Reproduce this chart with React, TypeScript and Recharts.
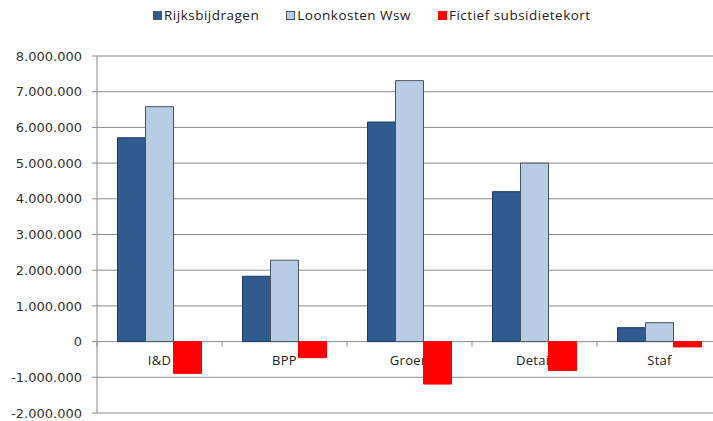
import { BarChart, Bar, XAxis, YAxis, CartesianGrid, Legend, LabelList } from "recharts";

const categories = ["I&D", "BPP", "Groen", "Detail", "Staf"];
const rijksbijdragen = [5710000, 1830000, 6150000, 4200000, 390000];
const loonkosten = [6580000, 2280000, 7310000, 5000000, 530000];
const fictief = [-890000, -450000, -1190000, -810000, -150000];
const yTicks = [-2000000, -1000000, 0, 1000000, 2000000, 3000000, 4000000, 5000000, 6000000, 7000000, 8000000];

const SERIES = [
  { key: "rijks", name: "Rijksbijdragen", fill: "#2F5B8F", stroke: "#1D3A5E" },
  { key: "loon", name: "Loonkosten Wsw", fill: "#B8CCE4", stroke: "#46525F" },
  { key: "fictief", name: "Fictief subsidietekort", fill: "#FF0000", stroke: "#FF0000" },
];

const data = categories.map((name, i) => ({
  name,
  rijks: rijksbijdragen[i],
  loon: loonkosten[i],
  fictief: fictief[i],
}));

const GAP = 0.164;
const FONT = "'Open Sans', sans-serif";
const GRID = "#8A8A8A";

const fmt = (v: number) => {
  const s = Math.abs(v).toString().replace(/\B(?=(\d{3})+(?!\d))/g, ".");
  return v < 0 ? "-" + s : s;
};

// category name + tick between categories, drawn from the first bar of each group
function CategoryLabel(props: any) {
  const vb = props.viewBox ?? props;
  const { x, y, width, height } = vb;
  const zeroY = height >= 0 ? y + height : y;
  const cx = x + width * 1.5;
  const gap = (width * 3 * GAP) / (1 - 2 * GAP);
  const bx = x - gap;
  return (
    <g>
      <line x1={bx} y1={zeroY} x2={bx} y2={zeroY + 5} stroke={GRID} />
      <text
        x={cx}
        y={zeroY + 18}
        textAnchor="middle"
        dominantBaseline="central"
        fontFamily={FONT}
        fontSize={13}
        letterSpacing={0.3}
        fill="#222"
      >
        {props.value}
      </text>
    </g>
  );
}

function LegendBox() {
  return (
    <div
      style={{
        display: "flex",
        alignItems: "flex-start",
        paddingLeft: 153,
        height: 50,
        fontFamily: FONT,
        fontSize: 13.5,
        letterSpacing: 0.5,
        color: "#222",
        lineHeight: "18px",
      }}
    >
      {SERIES.map((s) => (
        <div key={s.key} style={{ display: "flex", alignItems: "center", height: 18, marginRight: 27 }}>
          <span
            style={{
              display: "inline-block",
              width: 7,
              height: 7,
              background: s.fill,
              border: `1px solid ${s.key === "rijks" ? "#555" : s.stroke}`,
              marginRight: 2,
            }}
          />
          {s.name}
        </div>
      ))}
    </div>
  );
}

export default function App() {
  return (
    <div style={{ position: "fixed", left: 0, top: 0, width: 713, height: 421, overflow: "hidden", background: "#fff" }}>
      <BarChart
        width={730}
        height={421}
        data={data}
        margin={{ top: 6, right: 8, bottom: 8, left: 0 }}
        barCategoryGap={`${GAP * 100}%`}
        barGap={0}
      >
        <CartesianGrid vertical={false} stroke={GRID} />
        <XAxis dataKey="name" hide />
        <YAxis
          width={97}
          domain={[-2000000, 8000000]}
          ticks={yTicks}
          interval={0}
          tickFormatter={fmt}
          stroke={GRID}
          tickSize={5}
          tickMargin={10}
          tick={{ fontFamily: "'DejaVu Sans', sans-serif", fontSize: 13, fill: "#333" }}
        />
        <Legend verticalAlign="top" content={() => <LegendBox />} wrapperStyle={{ left: 0, top: 6, width: 713 }} />
        {SERIES.map((s, i) => (
          <Bar key={s.key} dataKey={s.key} name={s.name} fill={s.fill} stroke={s.stroke} strokeWidth={1} isAnimationActive={false}>
            {i === 0 && <LabelList dataKey="name" content={CategoryLabel} zIndex={250} />}
          </Bar>
        ))}
      </BarChart>
    </div>
  );
}
